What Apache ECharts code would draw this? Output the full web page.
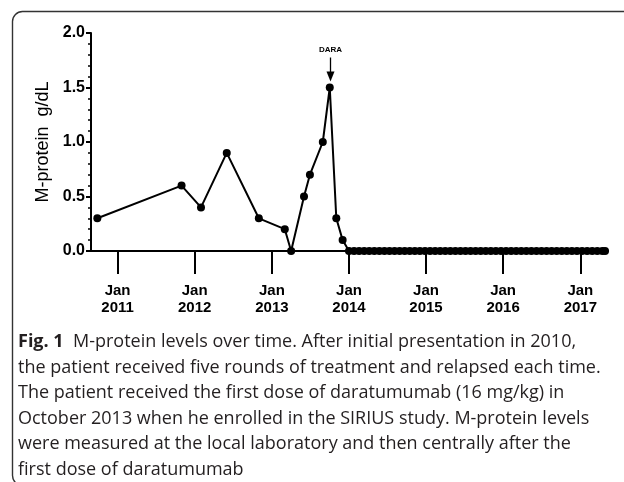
<!DOCTYPE html>
<html>
<head>
<meta charset="utf-8">
<script src="https://cdn.jsdelivr.net/npm/echarts@6/dist/echarts.min.js"></script>
<style>
html,body{margin:0;padding:0;background:#fff;}
#c{width:624px;height:482px;}
</style>
</head>
<body>
<div id="c"></div>
<script>
// ---- data ----
var preDates = ['2010-09-27','2011-10-31','2012-01-31','2012-06-01','2012-10-31','2013-03-03','2013-04-02','2013-06-02','2013-06-30','2013-08-30','2013-10-02','2013-11-02','2013-12-02'];
var preValues = [0.3, 0.6, 0.4, 0.9, 0.3, 0.2, 0.0, 0.5, 0.7, 1.0, 1.5, 0.3, 0.1];
var postDates = ['2014-01-01','2014-01-25','2014-02-18','2014-03-14','2014-04-07','2014-05-01','2014-05-25','2014-06-18','2014-07-12','2014-08-05','2014-08-29','2014-09-22','2014-10-16','2014-11-09','2014-12-03','2014-12-27',
  '2015-01-20','2015-02-13','2015-03-09','2015-04-02','2015-04-26','2015-05-20','2015-06-13','2015-07-07','2015-07-31','2015-08-24','2015-09-17','2015-10-11','2015-11-04','2015-11-28','2015-12-22',
  '2016-01-15','2016-02-08','2016-03-03','2016-03-27','2016-04-20','2016-05-14','2016-06-07','2016-07-01','2016-07-25','2016-08-18','2016-09-11','2016-10-05','2016-10-29','2016-11-22','2016-12-16',
  '2017-01-09','2017-02-02','2017-02-26','2017-03-22','2017-04-15','2017-04-28'];
var postValues = [0,0,0,0,0,0,0,0,0,0,0,0,0,0,0,0,
  0,0,0,0,0,0,0,0,0,0,0,0,0,0,0,
  0,0,0,0,0,0,0,0,0,0,0,0,0,0,0,
  0,0,0,0,0,0];
var tickYears = [2011, 2012, 2013, 2014, 2015, 2016, 2017];
var yTicks = [0, 0.5, 1.0, 1.5, 2.0];
var daraDate = '2013-10-02';
var daraValue = 1.5;
var axisStart = '2010-08-28';
var axisEnd = '2017-05-12';
var yAxisTitle = 'M-protein  g/dL';
var captionLines = [
  '{b|Fig. 1}  M-protein levels over time. After initial presentation in 2010,',
  'the patient received five rounds of treatment and relapsed each time.',
  'The patient received the first dose of daratumumab (16 mg/kg) in',
  'October 2013 when he enrolled in the SIRIUS study. M-protein levels',
  'were measured at the local laboratory and then centrally after the',
  'first dose of daratumumab'
];

// ---- build ----
function ts(s) { var a = s.split('-'); return new Date(+a[0], +a[1] - 1, +a[2]).getTime(); }
var allDates = preDates.concat(postDates);
var allValues = preValues.concat(postValues);
var seriesData = allDates.map(function (d, i) { return [ts(d), allValues[i]]; });
var yearTickValues = tickYears.map(function (y) { return new Date(y, 0, 1).getTime(); });

var chart = echarts.init(document.getElementById('c'), null, {renderer: 'canvas'});

var option = {
  animation: false,
  backgroundColor: '#fff',
  grid: {left: 91, right: 16, top: 33, bottom: 231, containLabel: false},
  xAxis: {
    type: 'value',
    min: ts(axisStart),
    max: ts(axisEnd),
    splitLine: {show: false},
    axisLine: {show: true, lineStyle: {color: '#000', width: 2}},
    axisTick: {show: true, customValues: yearTickValues, length: 23, lineStyle: {color: '#000', width: 2}},
    axisLabel: {
      customValues: yearTickValues,
      margin: 31,
      color: '#000',
      fontFamily: 'Liberation Sans, Arial, sans-serif',
      fontWeight: 'bold',
      fontSize: 15,
      lineHeight: 17,
      formatter: function (v) { return 'Jan\n' + new Date(v).getFullYear(); }
    }
  },
  yAxis: {
    type: 'value',
    min: yTicks[0],
    max: yTicks[yTicks.length - 1],
    interval: 0.5,
    name: yAxisTitle,
    nameLocation: 'middle',
    nameGap: 38,
    nameTextStyle: {color: '#000', fontFamily: 'Liberation Sans, Arial, sans-serif', fontSize: 18},
    splitLine: {show: false},
    axisLine: {show: true, lineStyle: {color: '#000', width: 2}},
    axisTick: {show: true, length: 5, lineStyle: {color: '#000', width: 2}},
    minorTick: {show: true, splitNumber: 5, length: 3, lineStyle: {color: '#000', width: 1.5}},
    axisLabel: {
      margin: 6,
      color: '#000',
      fontFamily: 'Liberation Sans, Arial, sans-serif',
      fontWeight: 'bold',
      fontSize: 16,
      formatter: function (v) { return v.toFixed(1); }
    }
  },
  series: [{
    type: 'line',
    data: seriesData,
    symbol: 'circle',
    symbolSize: 8,
    lineStyle: {color: '#000', width: 2},
    itemStyle: {color: '#000'},
    z: 5
  }]
};
chart.setOption(option);

// annotation + frame + caption
var p = chart.convertToPixel({seriesIndex: 0}, [ts(daraDate), daraValue]);
var px = Math.round(p[0]) + 0.5, py = p[1];
var graphics = [
  {type: 'text', x: px, y: py - 38, style: {text: 'DARA', fill: '#000', fontFamily: 'Liberation Sans, Arial, sans-serif', fontWeight: 'bold', fontSize: 8, align: 'center', verticalAlign: 'middle'}, z: 10},
  {type: 'line', shape: {x1: px, y1: py - 30, x2: px, y2: py - 14}, style: {stroke: '#000', lineWidth: 1.3}, z: 10},
  {type: 'polygon', shape: {points: [[px - 4, py - 16], [px + 4, py - 16], [px, py - 6]]}, style: {fill: '#000'}, z: 10},
  {type: 'rect', shape: {x: 12.5, y: 11.5, width: 700, height: 474, r: 10}, style: {stroke: '#333', lineWidth: 1.4, fill: null}, z: 1}
];
var lineY0 = 342, lineStep = 25.5;
captionLines.forEach(function (t, i) {
  graphics.push({
    type: 'text',
    x: 18,
    y: lineY0 + i * lineStep,
    style: {
      text: t,
      fill: '#231f20',
      fontFamily: '"Open Sans", sans-serif',
      fontSize: 18,
      verticalAlign: 'middle',
      rich: {b: {fontWeight: 'bold', fontFamily: '"Open Sans", sans-serif', fontSize: 18, fill: '#231f20'}}
    },
    z: 10
  });
});
chart.setOption({graphic: graphics});
</script>
</body>
</html>
